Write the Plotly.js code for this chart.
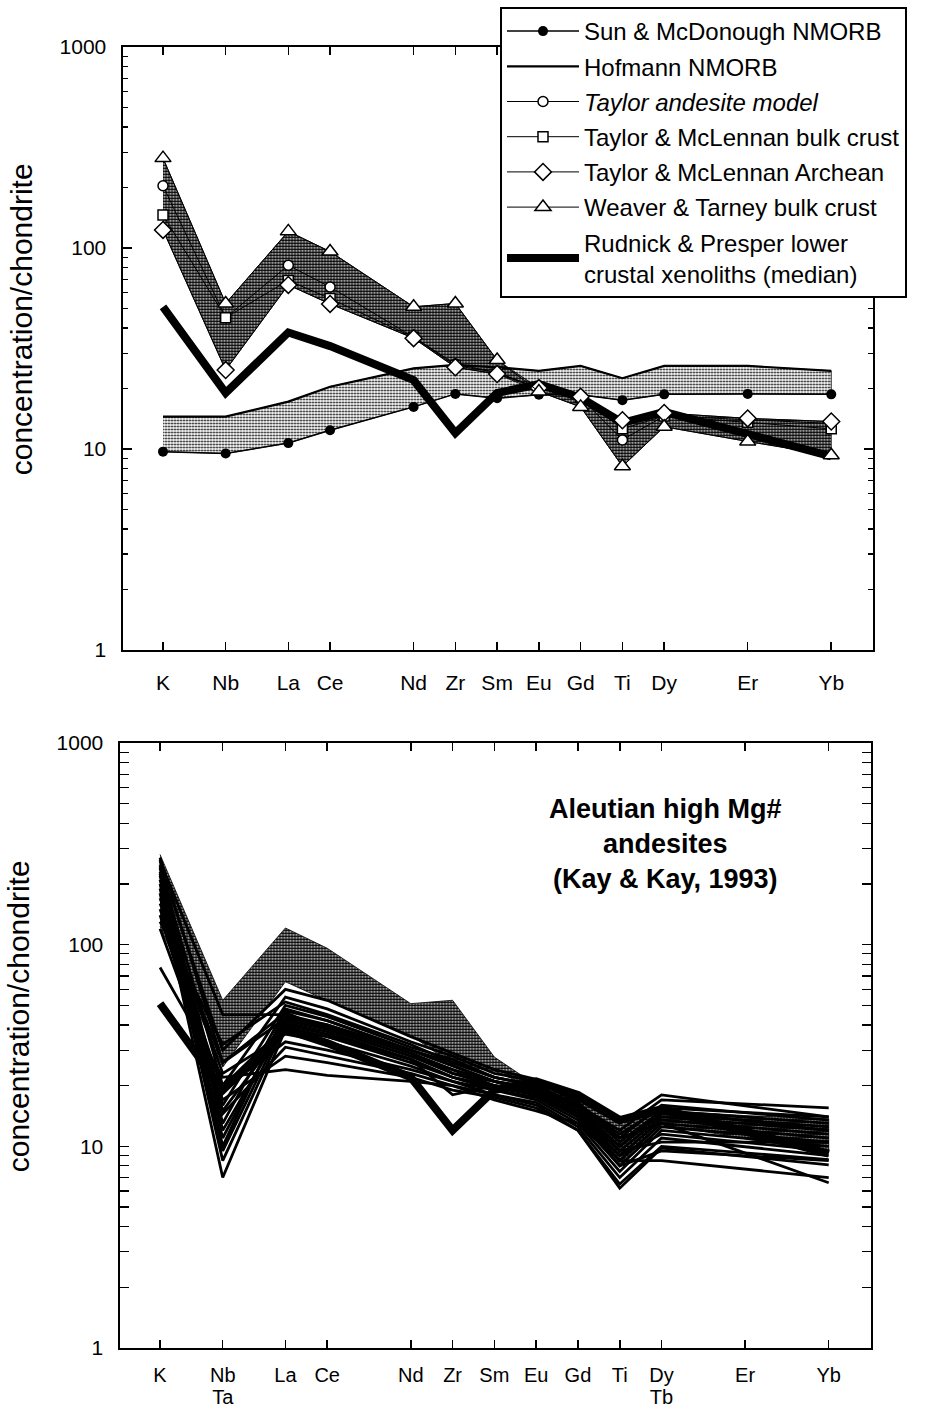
<!DOCTYPE html>
<html><head><meta charset="utf-8">
<script src="https://cdn.plot.ly/plotly-3.0.1.min.js"></script>
<style>html,body{margin:0;padding:0;background:#fff}#chart{width:928px;height:1407px}</style>
</head><body><div id="chart"></div>
<script>
// ---- categories / positions ----
const elements = ['K','Nb','La','Ce','Nd','Zr','Sm','Eu','Gd','Ti','Dy','Er','Yb'];
const elementPos = [0,1.5,3,4,6,7,8,9,10,11,12,14,16];
const tickLabelsTop = ['K','Nb','La','Ce','Nd','Zr','Sm','Eu','Gd','Ti','Dy','Er','Yb'];
const tickLabelsBottom = ['K','Nb','La','Ce','Nd','Zr','Sm','Eu','Gd','Ti','Dy','Er','Yb'];
const secondLinePos = [1.5, 12];
const secondLineLabels = ['Ta', 'Tb'];
const yTickVals = [1,10,100,1000];
const yTickText = ['1','10','100','1000'];

// ---- reference compositions (chondrite normalised) ----
const sunMcDonough   = [9.7,9.5,10.7,12.4,16.2,18.8,17.9,18.6,18.6,17.5,18.7,18.8,18.7];
const hofmann        = [14.5,14.5,17.2,20.4,25.2,26.2,25.5,24.5,25.9,22.5,25.9,25.9,24.5];
const taylorAndesite = [204,45,82,64,36,26.5,24,20,18,11.1,14.6,14,13.4];
const taylorMcLennanBulk = [146,45,69,56,36,26,24,20,18,12.6,14.6,13.6,12.6];
const taylorMcLennanArchean = [123,24.7,65.5,52.7,35.6,25.5,23.6,20.1,18.2,13.9,15.1,14.2,13.7];
const weaverTarney   = [280,53,121,96,51,53,27.7,19.3,16.2,8.2,12.9,10.9,9.3];
const rudnickPresper = [51,19,38,32.5,22,12,19,21,18,13.5,15.3,12,9.2];

// ---- Aleutian high-Mg# andesites (Kay & Kay, 1993); Er not reported ----
const aleutian01 = [260,45,45,40,30,26,22,20,16,12,17,null,15.5];
const aleutian02 = [250,30,60,53,35,29,24,21.5,17,13,18,null,14];
const aleutian03 = [240,20,55,48,33,28,23,21,16.5,11,16,null,13.5];
const aleutian04 = [230,16,50,44,31,27,22,20,16,10.5,15,null,13];
const aleutian05 = [220,13,48,42,30,25,21,19.5,15.5,10,14.5,null,12.5];
const aleutian06 = [210,11,44,40,29,24,21,19,15,9.5,14,null,12];
const aleutian07 = [200,9.5,42,38,28,23,20,18.5,14.5,9,13.5,null,11.5];
const aleutian08 = [190,8.5,40,36,27,22,19.5,18,14,8.5,13,null,11];
const aleutian09 = [180,7,38,35,26,22,19,17.5,13.5,8,12.5,null,10.5];
const aleutian10 = [170,23,36,33,25,21,19,17,13,7.5,12,null,10];
const aleutian11 = [160,26,46,38,28,24,20,18,14,9,11.5,null,9.5];
const aleutian12 = [150,19,33,30,24,21,18,16.5,12.5,7,11,null,9];
const aleutian13 = [140,14.5,31,28,23,20,18,16,12,6.5,10,null,8.6];
const aleutian14 = [130,32,52,45,32,26,22,20,16,11.5,15.5,null,14];
const aleutian15 = [120,17,28,26,22,19,17.5,15.5,12,6.2,9.8,null,8.1];
const aleutian16 = [77,22,24,22.5,21,20,17,15,13,8.5,8.5,null,7.0];
const aleutian17 = [265,12,41,37,27,18,20,19,15,10,15,null,12];
const aleutian18 = [245,10,47,42,30,25,21,19,15,11,13,null,6.6];
const aleutian19 = [270,26,43,39,29,23,21,18,14.5,9.5,10.5,null,10.5];
const aleutian20 = [225,15,39,35,27,22,20,18,14,8,9.5,null,8.5];
const aleutianSamples = [aleutian01,aleutian02,aleutian03,aleutian04,aleutian05,aleutian06,aleutian07,aleutian08,aleutian09,aleutian10,aleutian11,aleutian12,aleutian13,aleutian14,aleutian15,aleutian16,aleutian17,aleutian18,aleutian19,aleutian20];

// ---- derived bands ----
const crustModels = [taylorAndesite, taylorMcLennanBulk, taylorMcLennanArchean, weaverTarney];
const crustUpper = elements.map((_, i) => Math.max(...crustModels.map(m => m[i])));
const crustLower = elements.map((_, i) => Math.min(...crustModels.map(m => m[i])));
const rev = a => a.slice().reverse();
const bandX = elementPos.concat(rev(elementPos));

const FONT = 'Liberation Sans, Arial, Helvetica, sans-serif';
const darkPattern = {shape: '.', fgcolor: '#000', bgcolor: '#fff', size: 3, solidity: 0.7};
const lightPattern = {shape: '.', fgcolor: '#000', bgcolor: '#fff', size: 3, solidity: 0.35};

function band(xa, ya, upper, lower, pattern) {
  return {type: 'scatter', mode: 'lines', x: bandX, y: upper.concat(rev(lower)),
    xaxis: xa, yaxis: ya, fill: 'toself', fillcolor: 'rgba(0,0,0,0)', fillpattern: pattern,
    line: {width: 0.8, color: '#000'}, showlegend: false, hoverinfo: 'skip'};
}

const traces = [];
// top panel
traces.push(band('x','y', hofmann, sunMcDonough, lightPattern));
traces.push(band('x','y', crustUpper, crustLower, darkPattern));
traces.push({type:'scatter', mode:'lines', name:'Rudnick & Presper lower<br>crustal xenoliths (median)',
  x: elementPos, y: rudnickPresper, line:{color:'#000', width:8}, legendrank:7, legendgroup:'g7'});
traces.push({type:'scatter', mode:'lines+markers', name:'Sun & McDonough NMORB',
  x: elementPos, y: sunMcDonough, line:{color:'#000', width:1.5},
  marker:{symbol:'circle', size:10, color:'#000'}, legendrank:1, legendgroup:'g1'});
traces.push({type:'scatter', mode:'lines', name:'Hofmann NMORB',
  x: elementPos, y: hofmann, line:{color:'#000', width:2.2}, legendrank:2, legendgroup:'g2'});
const crustStyles = [
  {data: taylorAndesite, name:'<i>Taylor andesite model</i>', symbol:'circle', size:10, rank:3},
  {data: taylorMcLennanBulk, name:'Taylor & McLennan bulk crust', symbol:'square', size:10, rank:4},
  {data: taylorMcLennanArchean, name:'Taylor & McLennan Archean', symbol:'diamond', size:13, rank:5},
  {data: weaverTarney, name:'Weaver & Tarney bulk crust', symbol:'triangle-up', size:14, rank:6}
];
crustStyles.forEach(s => {
  traces.push({type:'scatter', mode:'lines+markers', name:s.name, x: elementPos, y: s.data,
    line:{color:'#000', width:1},
    marker:{symbol: s.symbol, size:s.size, color:'#fff', line:{color:'#000', width:1.5}},
    legendrank:s.rank, legendgroup:'g'+s.rank});
});
// bottom panel
traces.push(band('x2','y2', crustUpper, crustLower, darkPattern));
aleutianSamples.forEach(s => {
  traces.push({type:'scatter', mode:'lines', x: elementPos, y: s, xaxis:'x2', yaxis:'y2',
    connectgaps:true, line:{color:'#000', width:2.8}, showlegend:false, hoverinfo:'skip'});
});
traces.push({type:'scatter', mode:'lines', x: elementPos, y: rudnickPresper, xaxis:'x2', yaxis:'y2',
  line:{color:'#000', width:8}, showlegend:false});
// second line of the double element labels (Nb/Ta, Dy/Tb)
traces.push({type:'scatter', mode:'markers', x: secondLinePos, y:[1,1], xaxis:'x3', yaxis:'y2',
  marker:{size:0.1, opacity:0}, showlegend:false, hoverinfo:'skip'});

const W = 928, H = 1407, ML = 118, MR = 54, MT = 47, MB = 59;
const PW = W - ML - MR, PH = H - MT - MB;
// leading blank space shifts the rotated title up, as in the original
const PAD = '\u200b' + '\u00a0'.repeat(7);

function xAxis(domain, labels, standoff, fsize) {
  return {domain: domain, range:[-0.97, 17], tickmode:'array', tickvals: elementPos, ticktext: labels,
    ticks:'inside', ticklen:8, tickwidth:1.5, tickcolor:'#000', mirror:'allticks', showline:true,
    linewidth:2, linecolor:'#000', showgrid:false, zeroline:false, ticklabelstandoff: standoff,
    tickfont:{family:FONT, size:fsize, color:'#000'}, fixedrange:true};
}
function yAxis(domain) {
  return {domain: domain, type:'log', range:[0,3], tickmode:'array', tickvals: yTickVals, ticktext: yTickText,
    ticks:'inside', ticklen:9, tickwidth:1.5, tickcolor:'#000', mirror:'allticks', showline:true,
    linewidth:2, linecolor:'#000', showgrid:false, zeroline:false, ticklabelstandoff: 10,
    minor:{ticks:'inside', ticklen:5, tickwidth:1.2, tickcolor:'#000', dtick:'D1', showgrid:false},
    tickfont:{family:FONT, size:21, color:'#000'},
    title:{text: PAD + 'concentration/chondrite', font:{family:FONT, size:30, color:'#000'}, standoff: 18},
    fixedrange:true};
}

const layout = {
  width: W, height: H, paper_bgcolor:'#fff', plot_bgcolor:'#fff',
  margin:{l:ML, r:MR, t:MT, b:MB, autoexpand:false},
  font:{family:FONT, color:'#000'},
  xaxis: Object.assign(xAxis([4.5/PW, 755/PW], tickLabelsTop, 13, 21), {anchor:'y'}),
  yaxis: Object.assign(yAxis([1 - 603/PH, 1]), {anchor:'x'}),
  xaxis2: Object.assign(xAxis([1.5/PW, 752.5/PW], tickLabelsBottom, 8, 20), {anchor:'y2'}),
  yaxis2: Object.assign(yAxis([0, 605/PH]), {anchor:'x2'}),
  xaxis3: {overlaying:'x2', anchor:'y2', side:'bottom', range:[-0.97, 17], tickmode:'array',
    tickvals: secondLinePos, ticktext: secondLineLabels, ticks:'', showline:false, showgrid:false,
    zeroline:false, ticklabelstandoff: 35, tickfont:{family:FONT, size:20, color:'#000'}, fixedrange:true},
  showlegend: true,
  legend:{x:(500-ML)/PW, y:1 + (MT-7)/PH, xanchor:'left', yanchor:'top', bgcolor:'#fff',
    bordercolor:'#000', borderwidth:2, font:{family:FONT, size:24, color:'#000'},
    traceorder:'grouped', tracegroupgap:1, itemwidth:72},
  annotations:[{xref:'x2', yref:'y2', x:12.1, y:2.5, showarrow:false, align:'center',
    text:'<b>Aleutian high Mg#<br>andesites<br>(Kay & Kay, 1993)</b>',
    font:{family:FONT, size:27, color:'#000'}}]
};

Plotly.newPlot('chart', traces, layout, {displayModeBar:false, staticPlot:true});
</script>
</body></html>
